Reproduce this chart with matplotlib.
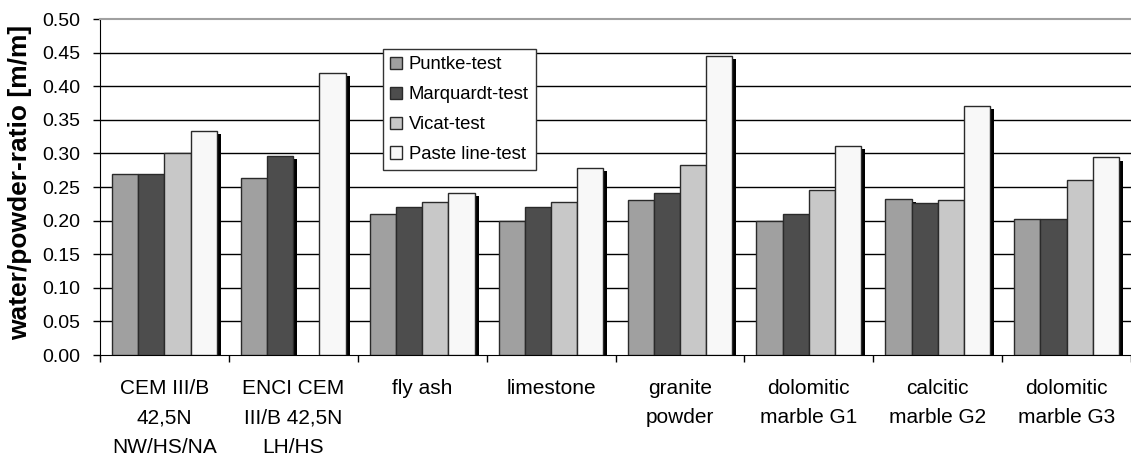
import numpy as np
import matplotlib
matplotlib.use("Agg")
import matplotlib.pyplot as plt
import matplotlib.patheffects as pe

plt.rcParams['font.family'] = ['Liberation Sans', 'DejaVu Sans']

# data
categories = ["CEM III/B\n42,5N\nNW/HS/NA", "ENCI CEM\nIII/B 42,5N\nLH/HS", "fly ash",
              "limestone", "granite\npowder", "dolomitic\nmarble G1",
              "calcitic\nmarble G2", "dolomitic\nmarble G3"]
series = ["Puntke-test", "Marquardt-test", "Vicat-test", "Paste line-test"]
puntke = [0.270, 0.263, 0.210, 0.200, 0.230, 0.200, 0.232, 0.203]
marquardt = [0.270, 0.296, 0.220, 0.220, 0.241, 0.210, 0.226, 0.203]
vicat = [0.300, np.nan, 0.228, 0.228, 0.283, 0.245, 0.230, 0.260]
paste = [0.334, 0.420, 0.241, 0.278, 0.445, 0.311, 0.371, 0.294]
values = [puntke, marquardt, vicat, paste]
colors = ["#a0a0a0", "#4d4d4d", "#c8c8c8", "#f8f8f8"]
yticks = np.arange(0, 0.501, 0.05)

fig = plt.figure(figsize=(11.31, 4.55), dpi=100)
ax = fig.add_axes([100 / 1131, 100 / 455, 1031 / 1131, 336 / 455])

x = np.arange(len(categories)) + 0.5
w = 0.203
shadow = [pe.SimplePatchShadow(offset=(2.9, -2.3), shadow_rgbFace="black", alpha=1.0), pe.Normal()]
for j, (name, vals, c) in enumerate(zip(series, values, colors)):
    bars = ax.bar(x + (j - 1.5) * w, vals, width=w, color=c, edgecolor="#2a2a2a",
                  linewidth=1.0, label=name, zorder=3 + j * 0.01)
    for b in bars:
        b.set_path_effects(shadow)

ax.set_xlim(0, len(categories))
ax.set_ylim(0, 0.5)
ax.set_yticks(yticks)
ax.set_yticklabels([f"{v:.2f}" for v in yticks])
for v in yticks[1:-1]:
    ax.axhline(v, color="black", lw=1.0, zorder=1)

ax.set_xticks(np.arange(len(categories) + 1))
ax.set_xticklabels([])
ax.set_xticks(x, minor=True)
ax.set_xticklabels(categories, minor=True, fontsize=15, linespacing=1.7, va="top")
ax.tick_params(axis="x", which="minor", length=0, pad=17)
ax.tick_params(axis="x", which="major", length=5, width=1, direction="out")
ax.tick_params(axis="y", length=5, width=1, direction="out", labelsize=14, pad=9)

ax.spines["right"].set_visible(False)
ax.spines["top"].set_color("#a0a0a0")
ax.spines["top"].set_linewidth(1.5)
ax.spines["left"].set_color("black")
ax.spines["bottom"].set_color("black")

ax.set_ylabel("water/powder-ratio [m/m]", fontsize=19, fontweight="bold")
ax.yaxis.set_label_coords(-0.066, 0.515)

leg = ax.legend(loc="upper left", bbox_to_anchor=(0.2745, 0.911), borderaxespad=0,
                fontsize=13.3, frameon=True, fancybox=False, framealpha=1,
                edgecolor="#333333", handlelength=0.65, handleheight=0.65,
                handletextpad=0.35, labelspacing=0.7, borderpad=0.4)
leg.get_frame().set_linewidth(1.0)
for h in leg.legend_handles:
    h.set_path_effects([])

fig.savefig("out.png", dpi=100)
